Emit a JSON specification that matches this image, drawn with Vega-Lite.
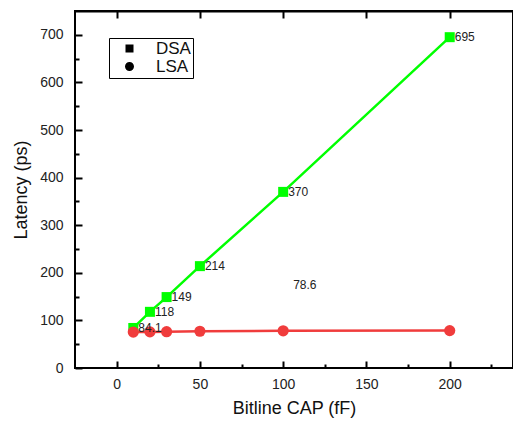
{
  "$schema": "https://vega.github.io/schema/vega-lite/v6.json",
  "width": 438,
  "height": 357,
  "autosize": {"type": "none"},
  "padding": {"left": 75, "top": 11, "right": 0, "bottom": 57},
  "background": "white",
  "config": {
    "view": {"stroke": "black", "strokeWidth": 2},
    "font": "Liberation Sans",
    "axis": {
      "domain": false,
      "domainColor": "black",
      "domainWidth": 2,
      "tickColor": "black",
      "tickWidth": 2,
      "grid": false,
      "labelFont": "Liberation Sans",
      "labelFontSize": 14,
      "labelColor": "#222",
      "titleFont": "Liberation Sans",
      "titleFontSize": 18,
      "titleFontWeight": "normal",
      "titleColor": "#111"
    },
    "legend": {
      "orient": "none",
      "legendX": 34,
      "legendY": 27,
      "strokeColor": "black",
      "padding": 2,
      "rowPadding": -4,
      "symbolSize": 100,
      "symbolOffset": 10,
      "symbolStrokeWidth": 2.5,
      "labelOffset": 18,
      "labelFont": "Liberation Sans",
      "labelFontSize": 17,
      "labelColor": "#111"
    }
  },
  "data": {
    "values": [
      {"series": "DSA", "cap": 10, "latency": 84.1, "label": "84.1"},
      {"series": "DSA", "cap": 20, "latency": 118, "label": "118"},
      {"series": "DSA", "cap": 30, "latency": 149, "label": "149"},
      {"series": "DSA", "cap": 50, "latency": 214, "label": "214"},
      {"series": "DSA", "cap": 100, "latency": 370, "label": "370"},
      {"series": "DSA", "cap": 200, "latency": 695, "label": "695"},
      {"series": "LSA", "cap": 10, "latency": 75.5, "label": ""},
      {"series": "LSA", "cap": 20, "latency": 75.8, "label": ""},
      {"series": "LSA", "cap": 30, "latency": 76.3, "label": ""},
      {"series": "LSA", "cap": 50, "latency": 77.2, "label": ""},
      {"series": "LSA", "cap": 100, "latency": 78.1, "label": "78.6"},
      {"series": "LSA", "cap": 200, "latency": 78.6, "label": ""}
    ]
  },
  "layer": [
    {
      "mark": {"type": "line", "strokeWidth": 2.5},
      "encoding": {
        "x": {
          "field": "cap", "type": "quantitative",
          "scale": {"domain": [-25, 238], "nice": false, "zero": false},
          "axis": {
            "orient": "top", "title": null, "labels": false, "ticks": false,
            "domain": true, "values": [0]
          }
        },
        "y": {
          "field": "latency", "type": "quantitative",
          "scale": {"domain": [0, 750], "nice": false},
          "axis": {"orient": "right", "title": null, "labels": false, "ticks": false, "values": [0]}
        },
        "color": {
          "field": "series", "type": "nominal",
          "scale": {"domain": ["DSA", "LSA"], "range": ["#00ff00", "#f03c3c"]},
          "legend": null
        },
        "order": {"field": "cap", "type": "quantitative"}
      }
    },
    {
      "mark": {"type": "point", "filled": true, "opacity": 1},
      "encoding": {
        "x": {
          "field": "cap", "type": "quantitative",
          "axis": {
            "orient": "bottom", "title": "Bitline CAP (fF)",
            "values": [0, 50, 100, 150, 200],
            "offset": -7, "tickSize": 7, "labelPadding": 9, "titlePadding": 8
          }
        },
        "y": {
          "field": "latency", "type": "quantitative",
          "axis": {
            "orient": "left", "title": "Latency (ps)",
            "values": [0, 100, 200, 300, 400, 500, 600, 700],
            "offset": -7, "tickSize": 7, "labelPadding": 12, "titlePadding": 9
          }
        },
        "color": {"field": "series", "type": "nominal", "legend": null},
        "shape": {
          "field": "series", "type": "nominal",
          "scale": {"domain": ["DSA", "LSA"], "range": ["square", "circle"]},
          "legend": null
        },
        "size": {
          "field": "series", "type": "nominal",
          "scale": {"domain": ["DSA", "LSA"], "range": [100, 125]},
          "legend": null
        }
      }
    },
    {
      "transform": [{"filter": "datum.series === 'DSA'"}],
      "mark": {"type": "text", "align": "left", "baseline": "middle", "dx": 5, "fontSize": 12, "font": "Liberation Sans", "color": "#222"},
      "encoding": {
        "x": {
          "field": "cap", "type": "quantitative",
          "axis": {"orient": "bottom", "title": null, "labels": false, "values": [25, 75, 125, 175, 225], "offset": -4, "tickSize": 4}
        },
        "y": {
          "field": "latency", "type": "quantitative",
          "axis": {"orient": "left", "title": null, "labels": false, "values": [50, 150, 250, 350, 450, 550, 650], "offset": -4, "tickSize": 4}
        },
        "text": {"field": "label"}
      }
    },
    {
      "transform": [{"filter": "datum.series === 'LSA' && datum.label !== ''"}],
      "mark": {"type": "text", "align": "left", "baseline": "middle", "dx": 10, "dy": -46, "fontSize": 12, "font": "Liberation Sans", "color": "#222"},
      "encoding": {
        "x": {
          "field": "cap", "type": "quantitative",
          "axis": {"orient": "top", "title": null, "labels": false, "values": [0, 50, 100, 150, 200], "offset": -7, "tickSize": 7}
        },
        "y": {"field": "latency", "type": "quantitative", "axis": null},
        "text": {"field": "label"}
      }
    },
    {
      "transform": [{"filter": "false"}],
      "mark": {"type": "point", "strokeWidth": 2.5, "opacity": 1},
      "encoding": {
        "x": {"field": "cap", "type": "quantitative", "axis": null},
        "y": {"field": "latency", "type": "quantitative", "axis": null},
        "shape": {
          "field": "series", "type": "nominal",
          "scale": {"domain": ["DSA", "LSA"], "range": ["M-4.1,0H4.1M-0.8,-0.8H0.8V0.8H-0.8Z", "M-4.1,0H4.1M-0.9,0A0.9,0.9,0,1,0,0.9,0A0.9,0.9,0,1,0,-0.9,0Z"]},
          "legend": {"title": null}
        },
        "fill": {
          "field": "series", "type": "nominal",
          "scale": {"domain": ["DSA", "LSA"], "range": ["#00ff00", "#f03c3c"]},
          "legend": {"title": null}
        },
        "stroke": {
          "field": "series", "type": "nominal",
          "scale": {"domain": ["DSA", "LSA"], "range": ["#00ff00", "#f03c3c"]},
          "legend": {"title": null}
        }
      }
    }
  ],
  "resolve": {
    "axis": {"x": "independent", "y": "independent"},
    "scale": {"shape": "independent"}
  }
}
